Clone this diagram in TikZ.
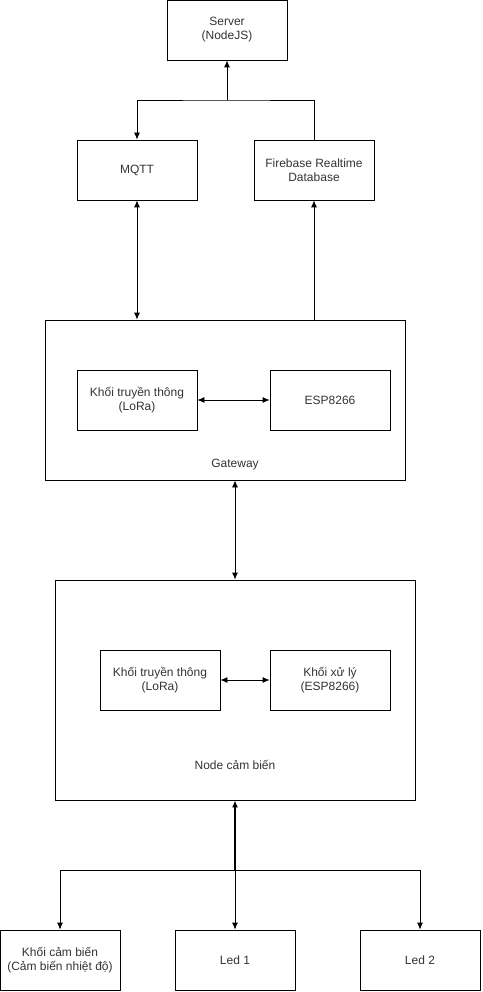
\documentclass[tikz,border=0pt]{standalone}
\usepackage{fontspec}
\setmainfont{Liberation Sans}
\usetikzlibrary{arrows.meta}

\begin{document}
\begin{tikzpicture}[x=1pt,y=-1pt,
    blk/.style={draw, line width=0.8pt, minimum width=120pt, minimum height=60pt,
      align=center, inner sep=0pt, font=\fontsize{12}{14}\selectfont, text=black!80},
    frame/.style={draw, line width=0.8pt, inner sep=0pt},
    lbl/.style={font=\fontsize{12}{14}\selectfont, text=black!80},
    link/.style={line width=0.8pt, -{Latex[length=7pt,width=6pt]}},
    both/.style={line width=0.8pt, {Latex[length=7pt,width=6pt]}-{Latex[length=7pt,width=6pt]}}]
        \useasboundingbox (0,0) rectangle (482,992);
        % cloud side
        \node[blk] (server) at (227,30) {Server\\(NodeJS)};
        \node[blk] (mqtt) at (137,170) {MQTT};
        \node[blk] (fb) at (314,170) {Firebase Realtime\\Database};
        % gateway
        \node[frame, minimum width=360pt, minimum height=160pt] (gw) at (225,400) {};
        \node[blk] (gwlora) at (137,400) {Khối truyền thông\\(LoRa)};
        \node[blk] (gwesp) at (330,400) {ESP8266};
        \node[lbl] (gwlabel) at (235,465) {Gateway};
        % sensor node
        \node[frame, minimum width=360pt, minimum height=220pt] (nd) at (235,690) {};
        \node[blk] (ndlora) at (160,680) {Khối truyền thông\\(LoRa)};
        \node[blk] (ndcpu) at (330,680) {Khối xử lý\\(ESP8266)};
        \node[lbl] (ndlabel) at (235,765) {Node cảm biến};
        % peripherals
        \node[blk] (sens) at (60,960) {Khối cảm biến\\(Cảm biến nhiệt độ)};
        \node[blk] (led1) at (235,960) {Led 1};
        \node[blk] (led2) at (420,960) {Led 2};

        \coordinate (top) at (227,100);
        \coordinate (split) at (235,870);

        \draw[link] (fb.north) |- (top) -| (mqtt.north);
        \draw[link] (top) -- (server.south);
        \draw[both] (mqtt.south) -- (mqtt.south |- gw.north);
        \draw[link] (fb.south |- gw.north) -- (fb.south);
        \draw[both] (gwlora) -- (gwesp);
        \draw[both] (nd.north |- gw.south) -- (nd.north);
        \draw[both] (ndlora) -- (ndcpu);
        \draw[link, line width=1.6pt] (split) -- (nd.south);
        \draw[link] (split) -| (sens.north);
        \draw[link] (split) -- (led1.north);
        \draw[link] (split) -| (led2.north);
\end{tikzpicture}
\end{document}
